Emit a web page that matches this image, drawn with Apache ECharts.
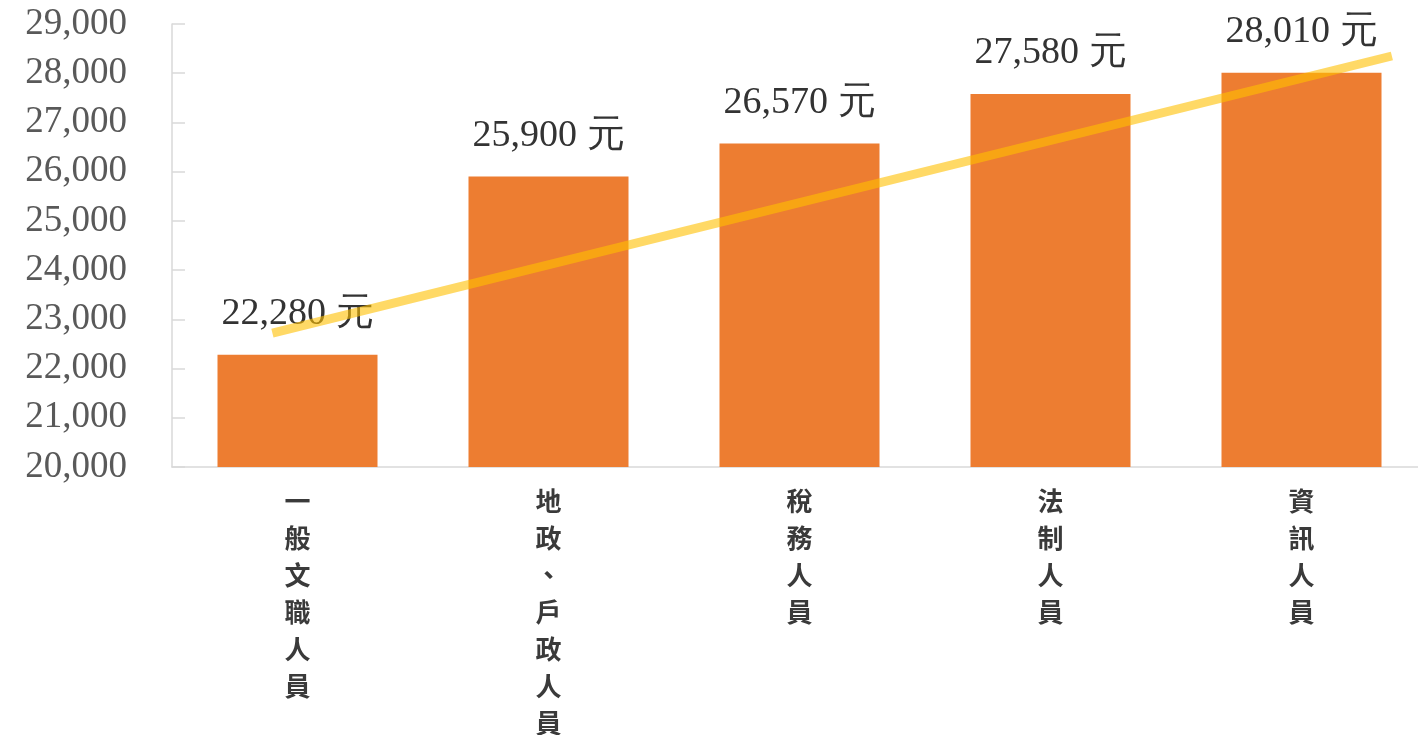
<!DOCTYPE html>
<html>
<head>
<meta charset="utf-8">
<script src="https://cdn.jsdelivr.net/npm/echarts@6/dist/echarts.min.js"></script>
<style>html,body{margin:0;padding:0;background:#fff;}#c{width:1418px;height:735px;}</style>
</head>
<body>
<div id="c"></div>
<script>
var categories = ['一般文職人員', '地政、戶政人員', '稅務人員', '法制人員', '資訊人員'];
var salaries = [22280, 25900, 26570, 27580, 28010];
// trend line: [category position, value] at its two ends
var trendLine = [[-0.1, 22720], [4.36, 28350]];
var yMin = 20000, yMax = 29000, yStep = 1000;

var chart = echarts.init(document.getElementById('c'));
chart.setOption({
  backgroundColor: '#fff',
  animation: false,
  grid: { left: 172, top: 24, width: 1255, height: 443, containLabel: false, outerBoundsMode: 'none' },
  xAxis: [{
    type: 'category',
    data: categories,
    axisLine: { lineStyle: { color: '#D9D9D9', width: 1.5 } },
    axisTick: { show: false },
    axisLabel: {
      interval: 0,
      margin: 16,
      color: '#3a3a3a',
      fontFamily: 'Noto Sans CJK TC',
      fontSize: 26,
      fontWeight: 'bold',
      lineHeight: 37,
      verticalAlign: 'top',
      formatter: function (v) { return v.split('').join('\n'); }
    }
  }, {
    type: 'value',
    min: -0.5,
    max: 4.5,
    show: false
  }],
  yAxis: {
    type: 'value',
    min: yMin,
    max: yMax,
    interval: yStep,
    splitLine: { show: false },
    axisLine: { show: true, onZero: false, lineStyle: { color: '#D9D9D9', width: 1.5 } },
    axisTick: { show: true, inside: true, length: 13, lineStyle: { color: '#D9D9D9', width: 1.5 } },
    axisLabel: {
      margin: 45,
      color: '#595959',
      fontFamily: 'Liberation Serif',
      fontSize: 37,
      formatter: function (v) { return v.toLocaleString('en-US'); }
    }
  },
  series: [{
    type: 'bar',
    data: salaries,
    barWidth: 160,
    itemStyle: { color: '#ED7D31' },
    label: {
      show: true,
      position: 'top',
      distance: 22,
      color: '#333333',
      fontFamily: 'Liberation Serif',
      fontSize: 38,
      formatter: function (p) { return p.value.toLocaleString('en-US') + ' 元'; }
    }
  }, {
    type: 'line',
    xAxisIndex: 1,
    data: trendLine,
    symbol: 'none',
    lineStyle: { color: '#FFC000', width: 9, opacity: 0.6 },
    z: 5
  }]
});
</script>
</body>
</html>
